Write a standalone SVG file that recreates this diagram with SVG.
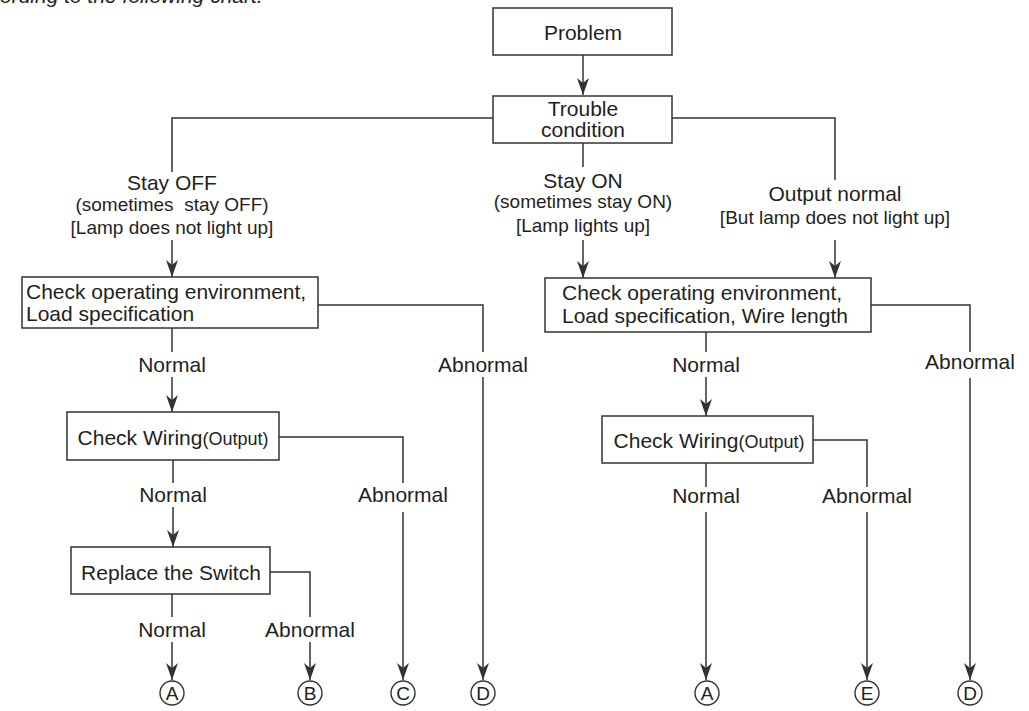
<svg xmlns="http://www.w3.org/2000/svg" width="1029" height="711" viewBox="0 0 1029 711">
<style>
text{font-family:"Liberation Sans",Arial,Helvetica,sans-serif;font-size:21px;fill:#231f20}
.m{text-anchor:middle}
.s{font-size:19px}
.box{fill:#fff;stroke:#333;stroke-width:1.5}
.ln{fill:none;stroke:#333;stroke-width:1.5}
.a{marker-end:url(#ah)}
.c{fill:#fff;stroke:#333;stroke-width:1.4}
.cl{font-size:19px;text-anchor:middle}
</style>
<defs>
<marker id="ah" viewBox="-17 -7 17 14" refX="0" refY="0" markerWidth="17" markerHeight="14" orient="auto" markerUnits="userSpaceOnUse">
<path d="M0,0 L-17,-6 L-12,0 L-17,6 Z" fill="#333"/>
</marker>
</defs>
<text x="0" y="3" font-style="italic">ording to the following chart.</text>
<g id="connectors">
<path class="ln a" d="M583,55 V95"/>
<path class="ln" d="M493,118 H172 V172"/>
<path class="ln" d="M583,143 V167"/>
<path class="ln" d="M672,118 H835 V180"/>
<path class="ln a" d="M172,240 V277"/>
<path class="ln a" d="M583,240 V278"/>
<path class="ln a" d="M835,240 V278"/>
<path class="ln" d="M172,328 V352"/>
<path class="ln a" d="M172,377 V412"/>
<path class="ln" d="M318,305 H483 V352"/>
<path class="ln a" d="M483,377 V680"/>
<path class="ln" d="M173,460 V483"/>
<path class="ln a" d="M173,507 V547"/>
<path class="ln" d="M279,437 H403 V483"/>
<path class="ln a" d="M403,512 V680"/>
<path class="ln" d="M172,594 V617"/>
<path class="ln a" d="M172,642 V680"/>
<path class="ln" d="M270,572 H310 V617"/>
<path class="ln a" d="M310,642 V680"/>
<path class="ln" d="M706,332 V352"/>
<path class="ln a" d="M706,377 V416"/>
<path class="ln" d="M871,305 H970 V352"/>
<path class="ln a" d="M970,378 V680"/>
<path class="ln" d="M706,463 V487"/>
<path class="ln a" d="M706,512 V680"/>
<path class="ln" d="M813,440 H867 V487"/>
<path class="ln a" d="M867,512 V680"/>
</g>
<g id="labels">
<text class="m" x="172" y="190">Stay OFF</text>
<text class="m s" x="172" y="211" xml:space="preserve">(sometimes  stay OFF)</text>
<text class="m s" x="172" y="234">[Lamp does not light up]</text>
<text class="m" x="583" y="188">Stay ON</text>
<text class="m s" x="583" y="208">(sometimes stay ON)</text>
<text class="m s" x="583" y="232">[Lamp lights up]</text>
<text class="m" x="835" y="201">Output normal</text>
<text class="m s" x="835" y="224">[But lamp does not light up]</text>
<text class="m" x="172" y="372">Normal</text>
<text class="m" x="483" y="372">Abnormal</text>
<text class="m" x="173" y="502">Normal</text>
<text class="m" x="403" y="502">Abnormal</text>
<text class="m" x="172" y="637">Normal</text>
<text class="m" x="310" y="637">Abnormal</text>
<text class="m" x="706" y="372">Normal</text>
<text class="m" x="970" y="369">Abnormal</text>
<text class="m" x="706" y="503">Normal</text>
<text class="m" x="867" y="503">Abnormal</text>
</g>
<g id="problem"><rect class="box" x="493" y="8" width="179" height="47"/><text class="m" x="583" y="40">Problem</text></g>
<g id="trouble"><rect class="box" x="493" y="96" width="179" height="47"/><text class="m" x="583" y="116" font-size="20">Trouble</text><text class="m" x="583" y="137" font-size="20">condition</text></g>
<g id="check1"><rect class="box" x="22" y="277" width="296" height="51"/><text x="26" y="299">Check operating environment,</text><text x="26" y="321">Load specification</text></g>
<g id="wiring1"><rect class="box" x="67" y="412" width="212" height="48"/><text class="m" x="173" y="445">Check Wiring<tspan font-size="18">(Output)</tspan></text></g>
<g id="replace"><rect class="box" x="71" y="547" width="199" height="47"/><text class="m" x="171" y="580">Replace the Switch</text></g>
<g id="check2"><rect class="box" x="545" y="278" width="326" height="54"/><text x="562" y="300">Check operating environment,</text><text x="562" y="323">Load specification, Wire length</text></g>
<g id="wiring2"><rect class="box" x="602" y="416" width="211" height="47"/><text class="m" x="709" y="448">Check Wiring<tspan font-size="18">(Output)</tspan></text></g>
<g id="endA1"><circle class="c" cx="172" cy="693" r="12"/><text class="cl" x="172" y="700">A</text></g>
<g id="endB"><circle class="c" cx="310" cy="693" r="12"/><text class="cl" x="310" y="700">B</text></g>
<g id="endC"><circle class="c" cx="403" cy="693" r="12"/><text class="cl" x="403" y="700">C</text></g>
<g id="endD1"><circle class="c" cx="483" cy="693" r="12"/><text class="cl" x="483" y="700">D</text></g>
<g id="endA2"><circle class="c" cx="707" cy="693" r="12"/><text class="cl" x="707" y="700">A</text></g>
<g id="endE"><circle class="c" cx="867" cy="693" r="12"/><text class="cl" x="867" y="700">E</text></g>
<g id="endD2"><circle class="c" cx="970" cy="693" r="12"/><text class="cl" x="970" y="700">D</text></g>
</svg>
